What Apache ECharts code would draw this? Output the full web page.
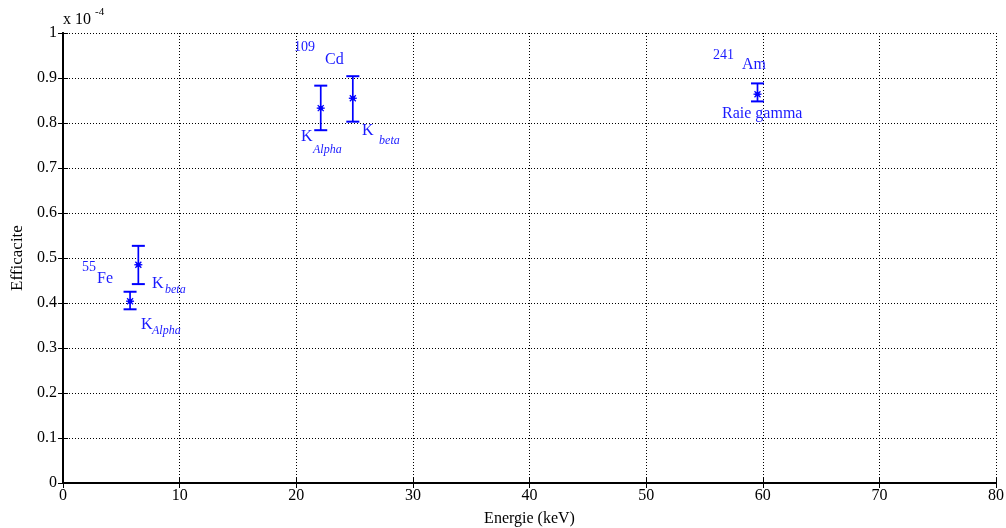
<!DOCTYPE html>
<html>
<head>
<meta charset="utf-8">
<script src="https://cdn.jsdelivr.net/npm/echarts@6/dist/echarts.min.js"></script>
<style>html,body{margin:0;padding:0;background:#fff}#c{width:1006px;height:528px}</style>
</head>
<body>
<div id="c"></div>
<script>
// Energies (keV) and efficiencies (x 1e-4)
const names = ['Fe K alpha', 'Fe K beta', 'Cd K alpha', 'Cd K beta', 'Am gamma'];
const energies = [5.75, 6.46, 22.1, 24.85, 59.55];
const efficacite = [0.404, 0.485, 0.833, 0.855, 0.864];
const errLow = [0.386, 0.442, 0.784, 0.803, 0.848];
const errHigh = [0.425, 0.527, 0.883, 0.904, 0.888];
const xTicks = [0, 10, 20, 30, 40, 50, 60, 70, 80];
const yTicks = [0, 0.1, 0.2, 0.3, 0.4, 0.5, 0.6, 0.7, 0.8, 0.9, 1];

// annotation texts: [x, y, text, kind]
const annX = [1.63, 2.92, 7.63, 8.75, 6.69, 7.63, 19.81, 22.47, 20.41, 21.44, 25.64, 27.10, 55.73, 58.22, 56.51];
const annY = [0.48, 0.453, 0.442, 0.429, 0.351, 0.338, 0.969, 0.94, 0.769, 0.74, 0.782, 0.76, 0.951, 0.929, 0.82];
const annText = ['55', 'Fe', 'K', 'beta', 'K', 'Alpha', '109', 'Cd', 'K', 'Alpha', 'K', 'beta', '241', 'Am', 'Raie gamma'];
const annKind = ['sup', 'main', 'main', 'sub', 'main', 'sub', 'sup', 'main', 'main', 'sub', 'main', 'sub', 'sup', 'main', 'main'];

const BLUE = '#0000ff';
const TXT = '#1a1aff';
const FONT = '"Liberation Serif", "Times New Roman", serif';

const errData = energies.map((e, i) => [e, efficacite[i], errLow[i], errHigh[i]]);
const annData = annX.map((x, i) => [x, annY[i], annText[i], annKind[i]]);

const chart = echarts.init(document.getElementById('c'), null, {renderer: 'canvas'});

const axisCommon = {
  axisLine: {show: true, lineStyle: {color: '#000', width: 2}},
  axisTick: {show: true, inside: true, length: 5, lineStyle: {color: '#000'}},
};

chart.setOption({
  animation: false,
  backgroundColor: '#fff',
  grid: {left: 63, right: 10, top: 33, bottom: 45, containLabel: false, outerBoundsMode: 'none'},
  xAxis: [
    Object.assign({
      type: 'value', min: 0, max: 80, interval: 10, position: 'bottom',
      name: 'Energie (keV)', nameLocation: 'middle', nameGap: 28,
      nameTextStyle: {fontFamily: FONT, fontSize: 16, color: '#000'},
      axisLabel: {fontFamily: FONT, fontSize: 16, color: '#000', margin: 5,
        formatter: v => xTicks.includes(v) ? String(v) : ''},
      splitLine: {show: true, lineStyle: {type: [1, 2], color: '#000', width: 1}}
    }, axisCommon),
    Object.assign({
      type: 'value', min: 0, max: 80, interval: 10, position: 'top',
      axisLabel: {show: false}, splitLine: {show: false}
    }, axisCommon)
  ],
  yAxis: [
    Object.assign({
      type: 'value', min: 0, max: 1, interval: 0.1, position: 'left',
      name: 'Efficacite', nameLocation: 'middle', nameGap: 34, nameRotate: 90,
      nameTextStyle: {fontFamily: FONT, fontSize: 17, color: '#000'},
      axisLabel: {fontFamily: FONT, fontSize: 16, color: '#000', margin: 6,
        formatter: v => {
          const t = yTicks.find(y => Math.abs(y - v) < 1e-9);
          return t === undefined ? '' : String(t);
        }},
      splitLine: {show: true, lineStyle: {type: [1, 2], color: '#000', width: 1}}
    }, axisCommon),
    Object.assign({
      type: 'value', min: 0, max: 1, interval: 0.1, position: 'right',
      axisLabel: {show: false}, splitLine: {show: false}
    }, axisCommon)
  ],
  graphic: [
    {type: 'text', left: 63, top: 12, style: {text: 'x 10', fontFamily: FONT, fontSize: 16, fill: '#000'}},
    {type: 'text', left: 95, top: 7, style: {text: '-4', fontFamily: FONT, fontSize: 11, fill: '#000'}}
  ],
  series: [
    {
      type: 'custom', xAxisIndex: 0, yAxisIndex: 0, silent: true,
      data: errData,
      renderItem: function (params, api) {
        const c = api.coord([api.value(0), api.value(1)]);
        const lo = api.coord([api.value(0), api.value(2)]);
        const hi = api.coord([api.value(0), api.value(3)]);
        const hw = 6.5, m = 4;
        const line = (x1, y1, x2, y2, w) => ({type: 'line', shape: {x1, y1, x2, y2},
          style: {stroke: BLUE, lineWidth: w || 2}});
        return {
          type: 'group',
          children: [
            line(c[0], lo[1], c[0], hi[1], 1.7),
            line(c[0] - hw, lo[1], c[0] + hw, lo[1]),
            line(c[0] - hw, hi[1], c[0] + hw, hi[1]),
            line(c[0] - m, c[1], c[0] + m, c[1], 1.3),
            line(c[0] - m * 0.75, c[1] - m * 0.75, c[0] + m * 0.75, c[1] + m * 0.75, 1.3),
            line(c[0] - m * 0.75, c[1] + m * 0.75, c[0] + m * 0.75, c[1] - m * 0.75, 1.3),
            {type: 'circle', shape: {cx: c[0], cy: c[1], r: 2.3}, style: {fill: BLUE}}
          ]
        };
      }
    },
    {
      type: 'custom', xAxisIndex: 0, yAxisIndex: 0, silent: true,
      data: annData,
      renderItem: function (params, api) {
        const p = api.coord([api.value(0), api.value(1)]);
        const d = annData[params.dataIndex];
        const kind = d[3];
        const size = kind === 'main' ? 16 : (kind === 'sup' ? 14 : 12);
        return {
          type: 'text', x: p[0], y: p[1],
          style: {
            text: d[2], fontFamily: FONT, fontSize: size,
            fontStyle: kind === 'sub' ? 'italic' : 'normal',
            fill: TXT, align: 'left', verticalAlign: 'middle'
          }
        };
      }
    }
  ]
});
</script>
</body>
</html>
